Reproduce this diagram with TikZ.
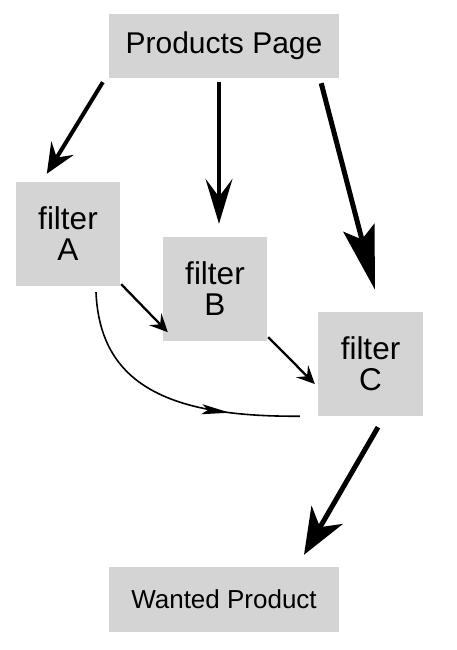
\documentclass[tikz,border=0pt]{standalone}
\usepackage{fontspec}
\setmainfont{Liberation Sans}
\usetikzlibrary{arrows.meta,calc,decorations.markings}
\definecolor{boxgray}{RGB}{212,212,212}
\begin{document}
\begin{tikzpicture}[x=1pt,y=-1pt,
  box/.style={fill=boxgray,inner sep=0pt,align=center,font=\fontsize{31.5}{31}\selectfont},
  bigarrow/.style={line width=4pt,-{Stealth[length=30pt,width=26pt,inset=11pt]}},
  smallarrow/.style={line width=2.3pt,-{Stealth[length=18pt,width=17pt,inset=7pt]}}]
\useasboundingbox (0,0) rectangle (456,650);
\node[box,minimum width=230pt,minimum height=64pt,font=\fontsize{30}{30}\selectfont] (pp) at (224,46) {Products Page};
\node[box,minimum width=104pt,minimum height=104pt] (fa) at (68,234) {filter\\A};
\node[box,minimum width=104pt,minimum height=104pt] (fb) at (215,289) {filter\\B};
\node[box,minimum width=105pt,minimum height=104pt] (fc) at (370.5,364) {filter\\C};
\node[box,minimum width=230pt,minimum height=65pt,font=\fontsize{26}{26}\selectfont] (wp) at (224,599.5) {Wanted Product};
% top arrows
\draw[bigarrow] ($(pp.south west)+(-6,4)$) -- ($(fa.north west)+(31,-8)$);
\draw[line width=4pt,-{Stealth[length=45pt,width=27pt,inset=18pt]}] ($(pp.south)+(-5,4)$) -- ($(fb.north)+(4,-13)$);
\draw[line width=5pt,-{Stealth[length=64pt,width=32pt,inset=12pt]}] ($(pp.south east)+(-18,5)$) -- ($(fc.north)+(4.5,-22)$);
% middle arrows
\draw[smallarrow] ($(fa.south east)+(1,-2)$) -- ($(fb.south west)+(5,-9)$);
\draw[smallarrow] ($(fb.south east)+(1,-4)$) -- ($(fc.west)+(-3,20)$);
% curve A to C
\draw[line width=1.6pt,postaction={decorate},
  decoration={markings,mark=at position 0.74 with {\arrow{Stealth[length=28pt,width=10pt,inset=6pt]}}}]
  ($(fa.south)+(28,6)$) .. controls ($(fa.south)+(32,98)$) and ($(fc.south west)+(-150,1)$) .. ($(fc.south west)+(-18,0)$);
% bottom arrow
\draw[line width=5pt,-{Stealth[length=46pt,width=36pt,inset=14pt]}] ($(fc.south)+(7.5,11)$) -- ($(wp.north)+(80,-12)$);
\end{tikzpicture}
\end{document}
